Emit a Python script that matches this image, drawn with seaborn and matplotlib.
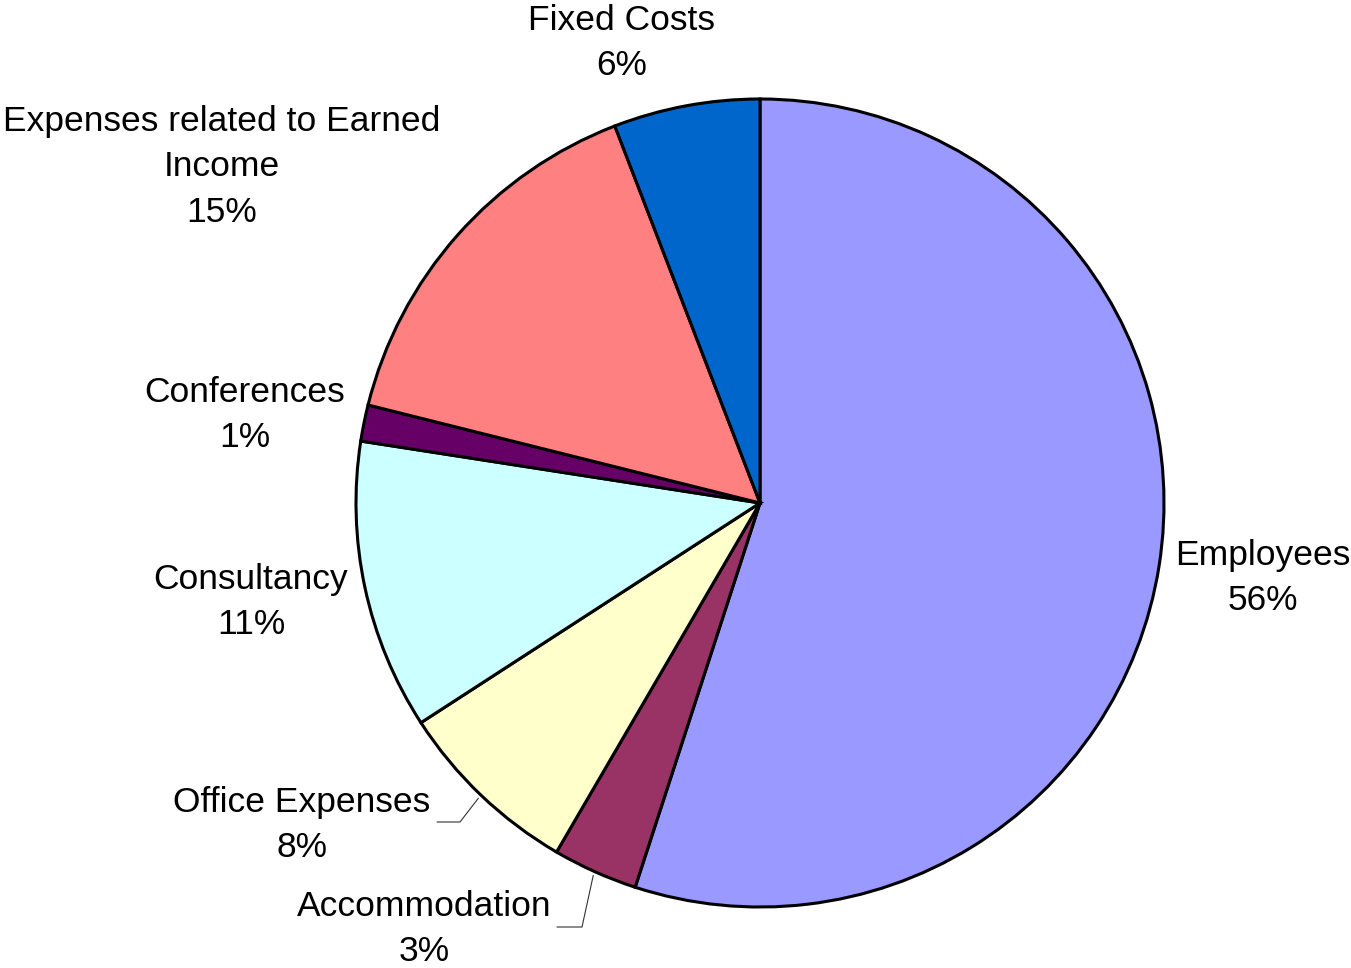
import numpy as np
import matplotlib.pyplot as plt
import seaborn as sns

categories = ["Employees", "Accommodation", "Office Expenses", "Consultancy",
              "Conferences", "Expenses related to Earned\nIncome", "Fixed Costs"]
shares = [55.0, 3.4, 7.45, 11.6, 1.45, 15.25, 5.85]
pct_labels = ["56%", "3%", "8%", "11%", "1%", "15%", "6%"]
colors = ["#9999FF", "#993366", "#FFFFCC", "#CCFFFF", "#660066", "#FF8080", "#0066CC"]

W, H = 1351, 968

sns.set_theme(style="white")
plt.rcParams["font.family"] = ["Liberation Sans", "DejaVu Sans"]

fig = plt.figure(figsize=(W / 100, H / 100), dpi=100)
ax = fig.add_axes([0, 0, 1, 1])

cx, cy, r = 760, H - 503, 404
wedges, _ = ax.pie(shares, colors=colors, startangle=90, counterclock=False,
                   center=(cx, cy), radius=r, frame=True,
                   wedgeprops=dict(edgecolor="black", linewidth=2.2))
ax.set_xlim(0, W)
ax.set_ylim(0, H)
ax.set_aspect("equal")
ax.axis("off")

# label block centres (pixel coords, top origin)
label_pos = [(1263, 578), (424, 929), (302, 825), (251, 602),
             (245, 415), (222, 167), (622, 43)]
for name, pct, (x, y) in zip(categories, pct_labels, label_pos):
    ax.text(x, H - y, f"{name}\n{pct}", ha="center", va="center",
            fontsize=25.5, linespacing=1.48, color="black")

# leader lines for the two small lower slices
leaders = {1: [(582, 927), (557, 927)], 2: [(460, 822), (437, 822)]}
for i, pts in leaders.items():
    w = wedges[i]
    mid = np.deg2rad((w.theta1 + w.theta2) / 2)
    start = (cx + (r + 4) * np.cos(mid), cy + (r + 4) * np.sin(mid))
    xs = [start[0]] + [p[0] for p in pts]
    ys = [start[1]] + [H - p[1] for p in pts]
    ax.plot(xs, ys, color="#333333", linewidth=0.8)

fig.savefig("out.png", dpi=100, facecolor="white")
